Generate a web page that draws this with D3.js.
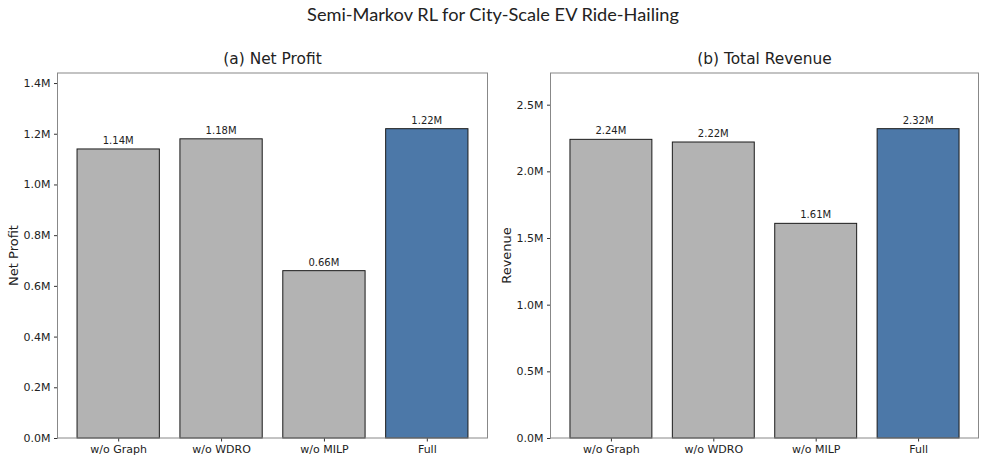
<!DOCTYPE html>
<html lang="en">
<head>
  <meta charset="UTF-8">
  <title>Semi-Markov RL for City-Scale EV Ride-Hailing</title>
  <script src="https://d3js.org/d3.v7.min.js"></script>
  <style>
    body { margin: 0; padding: 0; background: #fff; }
    #chart text { font-family: 'DejaVu Sans', sans-serif; fill: #222; }
    #chart text.suptitle { font-family: Lato, 'DejaVu Sans', sans-serif; }
  </style>
</head>
<body>
  <svg id="chart" width="986" height="463"></svg>
  <script>
    // data
    const categories = ["w/o Graph", "w/o WDRO", "w/o MILP", "Full"];
    const netProfit = [1.14, 1.18, 0.66, 1.22];      // millions
    const revenue = [2.24, 2.22, 1.61, 2.32];        // millions
    const profitTicks = [0, 0.2, 0.4, 0.6, 0.8, 1.0, 1.2, 1.4];
    const revenueTicks = [0, 0.5, 1.0, 1.5, 2.0, 2.5];

    const gray = "#b3b3b3";
    const blue = "#4c78a8";

    const svg = d3.select("#chart");

    svg.append("text")
      .attr("class", "suptitle")
      .attr("x", 493).attr("y", 21)
      .attr("text-anchor", "middle")
      .attr("font-size", 18.2)
      .text("Semi-Markov RL for City-Scale EV Ride-Hailing");

    function panel(left, right, values, ticks, title, ylabel) {
      const top = 73, bottom = 438;
      const g = svg.append("g");

      const x = d3.scaleLinear()
        .domain([-0.59, categories.length - 1 + 0.59])
        .range([left, right]);
      const y = d3.scaleLinear()
        .domain([0, d3.max(values) * 1.18])
        .range([bottom, top]);

      // bars
      g.selectAll("rect.bar")
        .data(values)
        .enter().append("rect")
        .attr("class", "bar")
        .attr("x", (d, i) => x(i - 0.4))
        .attr("width", x(0.4) - x(-0.4))
        .attr("y", d => y(d))
        .attr("height", d => y(0) - y(d))
        .attr("fill", (d, i) => i === categories.length - 1 ? blue : gray)
        .attr("stroke", "#1a1a1a")
        .attr("stroke-width", 1);

      // value labels
      g.selectAll("text.val")
        .data(values)
        .enter().append("text")
        .attr("class", "val")
        .attr("x", (d, i) => x(i))
        .attr("y", d => y(d) - 5)
        .attr("text-anchor", "middle")
        .attr("font-size", 10)
        .text(d => d.toFixed(2) + "M");

      // y axis
      const yAxis = g.append("g")
        .attr("transform", `translate(${left},0)`)
        .call(d3.axisLeft(y).tickValues(ticks).tickSize(3.5).tickPadding(3.5)
          .tickFormat(d => d.toFixed(1) + "M"));
      yAxis.attr("font-family", null);
      yAxis.select(".domain").remove();
      yAxis.selectAll("line").attr("stroke", "#333");
      yAxis.selectAll("text").attr("font-size", 11);

      // x axis
      const xAxis = g.append("g")
        .attr("transform", `translate(0,${bottom})`)
        .call(d3.axisBottom(x).tickValues(d3.range(categories.length)).tickSize(3.5).tickPadding(3.5)
          .tickFormat(i => categories[i]));
      xAxis.attr("font-family", null);
      xAxis.select(".domain").remove();
      xAxis.selectAll("line").attr("stroke", "#333");
      xAxis.selectAll("text").attr("font-size", 11);

      // frame
      g.append("rect")
        .attr("x", left).attr("y", top)
        .attr("width", right - left).attr("height", bottom - top)
        .attr("fill", "none")
        .attr("stroke", "#888")
        .attr("stroke-width", 1);

      g.append("text")
        .attr("x", (left + right) / 2).attr("y", top - 9)
        .attr("text-anchor", "middle")
        .attr("font-size", 15.4)
        .text(title);

      g.append("text")
        .attr("transform", `translate(${left - 40},${(top + bottom) / 2}) rotate(-90)`)
        .attr("text-anchor", "middle")
        .attr("font-size", 13)
        .text(ylabel);
    }

    panel(57.5, 487.5, netProfit, profitTicks, "(a) Net Profit", "Net Profit");
    panel(550.5, 978.5, revenue, revenueTicks, "(b) Total Revenue", "Revenue");
  </script>
</body>
</html>
